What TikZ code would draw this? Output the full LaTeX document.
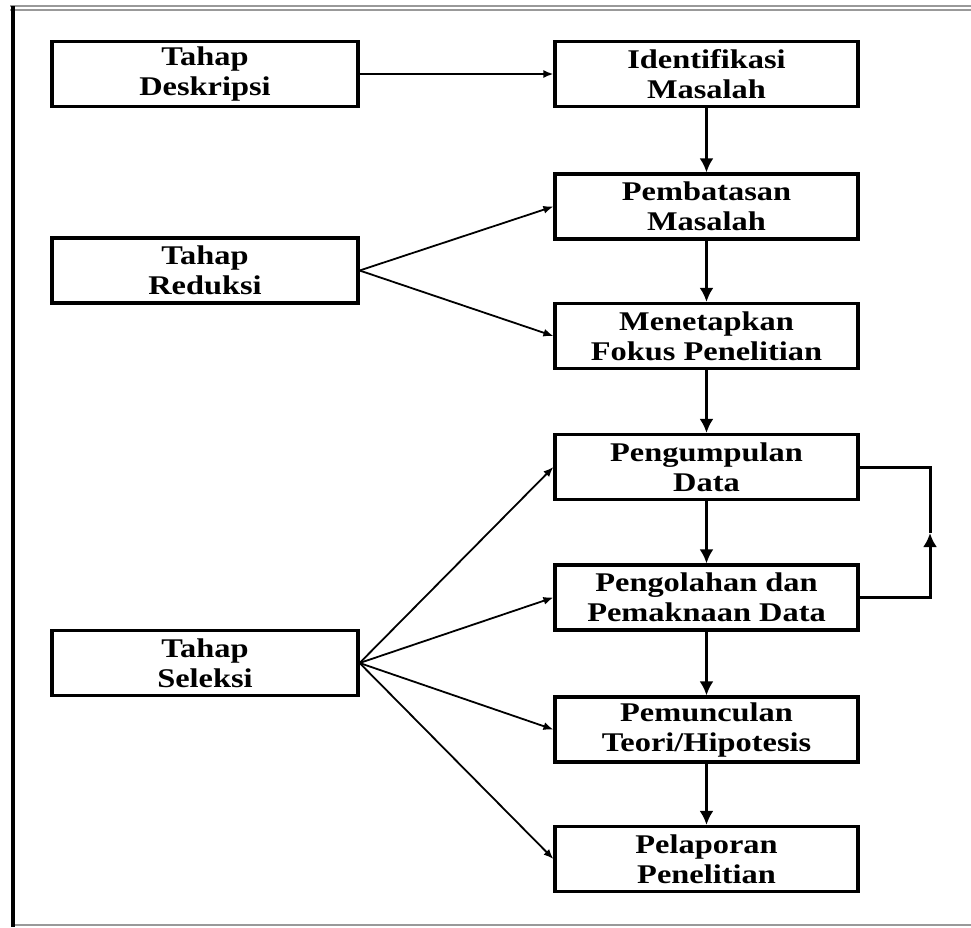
\documentclass[tikz,border=0pt]{standalone}
\usepackage{fontspec}
\setmainfont{Liberation Serif}[FakeStretch=1.2]
\usetikzlibrary{arrows.meta}
\begin{document}
\begin{tikzpicture}[x=1pt,y=-1pt,
  box/.style={draw=black,line width=3.2pt,minimum width=303pt,minimum height=65pt,inner sep=0pt,align=center,font=\fontsize{27}{30}\selectfont\bfseries},
  lbox/.style={box,minimum width=306pt},
  vline/.style={line width=3pt,-{Latex[length=14pt,width=14pt]}},
  dline/.style={line width=1.8pt,-{Latex[length=10pt,width=8pt]}},
  frame/.style={line width=3.5pt,black},
  gframe/.style={line width=1.5pt,gray!80}]
\useasboundingbox (0,0) rectangle (971,927);
\fill[white] (0,0) rectangle (971,927);
% frame
\draw[gframe] (10,6) -- (971,6);
\draw[gframe] (10,10) -- (971,10);
\draw[gframe] (12,925) -- (971,925);
\draw[frame] (13,6) -- (13,927);
% right column
\node[box] (idn) at (706.5,74) {Identifikasi\\Masalah};
\node[box] (pbt) at (706.5,206.5) {Pembatasan\\Masalah};
\node[box] (mft) at (706.5,336) {Menetapkan\\Fokus Penelitian};
\node[box] (pum) at (706.5,467) {Pengumpulan\\Data};
\node[box] (pol) at (706.5,597.5) {Pengolahan dan\\Pemaknaan Data};
\node[box] (pmc) at (706.5,729.5) {Pemunculan\\Teori/Hipotesis};
\node[box] (plp) at (706.5,859) {Pelaporan\\Penelitian};
% left column
\node[lbox] (des) at (205,74) {Tahap\\Deskripsi};
\node[lbox] (red) at (205,270.5) {Tahap\\Reduksi};
\node[lbox] (sel) at (205,663) {Tahap\\Seleksi};
% vertical arrows
\draw[vline] (idn) -- (pbt);
\draw[vline] (pbt) -- (mft);
\draw[vline] (mft) -- (pum);
\draw[vline] (pum) -- (pol);
\draw[vline] (pol) -- (pmc);
\draw[vline] (pmc) -- (plp);
% diagonal arrows
\draw[dline] (des.east) -- (idn.west);
\draw[dline] (red.east) -- (pbt.west);
\draw[dline] (red.east) -- (mft.west);
\draw[dline] (sel.east) -- (pum.west);
\draw[dline] (sel.east) -- (pol.west);
\draw[dline] (sel.east) -- (pmc.west);
\draw[dline] (sel.east) -- (plp.west);
% feedback loop
\coordinate (tip) at (930,533);
\draw[line width=3pt,-{Latex[length=14pt,width=14pt]}] (pol.east) -| (tip);
\draw[line width=3pt] (tip) |- (pum.east);
\end{tikzpicture}
\end{document}
